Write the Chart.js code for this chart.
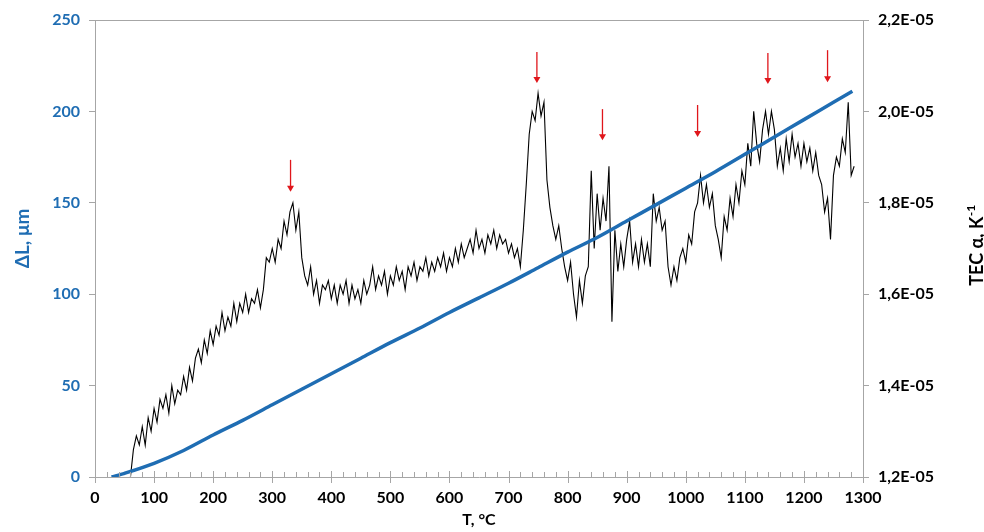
<!DOCTYPE html>
<html><head><meta charset="utf-8">
<script src="https://cdn.jsdelivr.net/npm/chart.js@4.4.1/dist/chart.umd.min.js"></script>
<style>html,body{margin:0;padding:0;background:#fff}#wrap{width:984px;height:532px;position:relative}</style>
</head><body><div id="wrap"><canvas id="c"></canvas></div>
<script>
// ---- data ----
// TEC curve, sampled every 5 °C starting at 60 °C, values in units of 1E-05 K^-1
const tecStartT = 60, tecStepT = 5;
const tecValues = [
 1.20,1.26,1.29,1.27,1.31,1.27,1.33,1.30,
 1.35,1.32,1.37,1.35,1.38,1.34,1.40,1.36,1.39,1.38,1.42,1.39,1.44,1.41,1.46,1.48,1.45,1.50,1.47,1.52,
 1.49,1.53,1.51,1.56,1.52,1.55,1.53,1.58,1.54,1.58,1.56,1.60,1.56,1.59,1.58,1.61,1.57,1.61,1.68,1.67,
 1.70,1.67,1.72,1.70,1.76,1.73,1.78,1.80,1.74,1.78,1.68,1.64,1.62,1.66,1.60,1.63,1.58,1.62,1.61,1.63,
 1.59,1.62,1.58,1.62,1.60,1.63,1.58,1.62,1.59,1.61,1.58,1.63,1.60,1.62,1.66,1.61,1.64,1.62,1.65,1.60,
 1.64,1.62,1.66,1.63,1.65,1.61,1.66,1.64,1.67,1.63,1.66,1.65,1.68,1.64,1.67,1.65,1.68,1.66,1.69,1.65,
 1.68,1.66,1.70,1.67,1.71,1.68,1.70,1.72,1.69,1.74,1.70,1.72,1.69,1.73,1.71,1.74,1.70,1.73,1.71,1.72,
 1.69,1.71,1.68,1.70,1.66,1.74,1.84,1.95,2.00,1.98,2.04,1.99,2.02,1.85,1.79,1.75,1.72,1.75,1.70,1.66,
 1.63,1.67,1.60,1.55,1.63,1.58,1.64,1.66,1.87,1.70,1.82,1.74,1.81,1.76,1.88,1.54,1.74,1.65,1.71,1.66,
 1.72,1.76,1.67,1.71,1.66,1.72,1.67,1.71,1.66,1.82,1.76,1.79,1.74,1.76,1.66,1.62,1.66,1.63,1.68,1.70,
 1.67,1.73,1.71,1.78,1.80,1.86,1.80,1.84,1.79,1.82,1.75,1.72,1.68,1.77,1.74,1.81,1.77,1.84,1.80,1.87,
 1.84,1.93,1.88,2.00,1.93,1.89,1.96,2.00,1.95,2.00,1.96,1.88,1.92,1.87,1.94,1.89,1.95,1.90,1.93,1.88,
 1.93,1.89,1.92,1.87,1.91,1.86,1.84,1.78,1.81,1.72,1.86,1.90,1.88,1.94,1.91,2.02,1.86,1.88
];
// Elongation ΔL (µm) vs temperature
const dlT      = [28, 50, 100, 150, 200, 250, 300, 350, 400, 450, 500, 550, 600, 650, 700, 750, 800, 850, 900, 950, 1000, 1050, 1100, 1150, 1200, 1250, 1282];
const dlValues = [0, 2, 7.5, 14.5, 23, 31, 39.5, 48, 56.5, 65, 73.5, 81.5, 90, 98, 106, 114.5, 123, 131, 140, 149, 158, 167, 176.5, 186, 195.5, 205, 211];
// axis ticks
const xTicks = [0,100,200,300,400,500,600,700,800,900,1000,1100,1200,1300];
const leftTicks = [0,50,100,150,200,250];
const rightTicks = [1.2,1.4,1.6,1.8,2.0,2.2];
// red arrows: temperature, top and tip (TEC units)
const arrowT   = [331, 748, 859, 1020, 1139, 1240];
const arrowTop = [1.894, 2.130, 2.005, 2.014, 2.128, 2.134];
const arrowTip = [1.824, 2.062, 1.937, 1.944, 2.060, 2.064];

// ---- build ----
const BLUE = '#1f6db3';
const GRAY = '#a6a6a6';
const FONT = 'Lato, "Open Sans", sans-serif';
const tecData = tecValues.map((v,i)=>({x: tecStartT + i*tecStepT, y: v}));
const dlData = dlT.map((t,i)=>({x:t, y:dlValues[i]}));

const decor = {
  id: 'decor',
  afterDatasetsDraw(chart){
    const ctx = chart.ctx, xs = chart.scales.x, ys = chart.scales.y2;
    ctx.save();
    ctx.strokeStyle = '#e0161b'; ctx.fillStyle = '#e0161b'; ctx.lineWidth = 1.3;
    arrowT.forEach((t,i)=>{
      const x = xs.getPixelForValue(t);
      const y0 = ys.getPixelForValue(arrowTop[i]);
      const y1 = ys.getPixelForValue(arrowTip[i]);
      ctx.beginPath(); ctx.moveTo(x, y0); ctx.lineTo(x, y1 - 5); ctx.stroke();
      ctx.beginPath(); ctx.moveTo(x - 3.5, y1 - 6); ctx.lineTo(x + 3.5, y1 - 6); ctx.lineTo(x, y1); ctx.closePath(); ctx.fill();
    });
    ctx.restore();
  },
  afterDraw(chart){
    const ctx = chart.ctx, a = chart.chartArea, xs = chart.scales.x;
    ctx.save();
    ctx.strokeStyle = GRAY; ctx.lineWidth = 1;
    // top border
    ctx.beginPath(); ctx.moveTo(a.left, a.top + 0.5); ctx.lineTo(a.right, a.top + 0.5); ctx.stroke();
    // x ticks: minor every 20 (upward), major every 100 (crossing)
    for (let v = 0; v <= 1300; v += 20) {
      const x = Math.round(xs.getPixelForValue(v)) + 0.5;
      ctx.beginPath();
      if (v % 100 === 0) { ctx.moveTo(x, a.bottom - 6); ctx.lineTo(x, a.bottom + 6); }
      else { ctx.moveTo(x, a.bottom - 5); ctx.lineTo(x, a.bottom); }
      ctx.stroke();
    }
    // left title
    const cy = (a.top + a.bottom) / 2;
    ctx.font = 'bold 19px ' + FONT; ctx.textAlign = 'center'; ctx.textBaseline = 'middle';
    ctx.fillStyle = BLUE;
    ctx.save(); ctx.translate(23, cy - 10); ctx.rotate(-Math.PI/2); ctx.fillText('ΔL, μm', 0, 0); ctx.restore();
    // right title with superscript
    ctx.fillStyle = '#000';
    ctx.save(); ctx.translate(a.right + 114, cy - 3); ctx.rotate(-Math.PI/2);
    ctx.font = 'bold 18px ' + FONT;
    const main = 'TEC α, K';
    const wMain = ctx.measureText(main).width;
    ctx.font = 'bold 12px ' + FONT;
    const sup = '-1';
    const wSup = ctx.measureText(sup).width;
    const x0 = -(wMain + wSup) / 2;
    ctx.textAlign = 'left';
    ctx.font = 'bold 18px ' + FONT; ctx.fillText(main, x0, 0);
    ctx.font = 'bold 12px ' + FONT; ctx.fillText(sup, x0 + wMain + 0.5, -6);
    ctx.restore();
    ctx.restore();
  }
};

new Chart(document.getElementById('c'), {
  type: 'line',
  data: { datasets: [
    { label: 'ΔL', data: dlData, yAxisID: 'y', borderColor: BLUE, borderWidth: 3.5, pointRadius: 0, tension: 0.3, fill: false },
    { label: 'TEC', data: tecData, yAxisID: 'y2', borderColor: '#000', borderWidth: 1.1, pointRadius: 0, tension: 0, fill: false }
  ]},
  options: {
    responsive: true, maintainAspectRatio: false, animation: false,
    layout: { padding: { top: 20, left: 0, right: 0, bottom: 0 } },
    plugins: { legend: { display: false }, tooltip: { enabled: false } },
    scales: {
      x: {
        type: 'linear', min: 0, max: 1300,
        afterBuildTicks: s => { s.ticks = xTicks.map(v => ({ value: v })); },
        afterFit: s => { s.height = 55; },
        grid: { display: true, drawOnChartArea: false, drawTicks: false },
        border: { display: true, color: GRAY, width: 1 },
        ticks: { color: '#000', font: { family: FONT, size: 16, weight: 'bold' }, padding: 11, maxRotation: 0, autoSkip: false,
          callback: v => String(v) },
        title: { display: true, text: 'T, °C', color: '#000', font: { family: FONT, size: 16, weight: 'bold' }, padding: { top: 0, bottom: 3 } }
      },
      y: {
        position: 'left', min: 0, max: 250,
        afterBuildTicks: s => { s.ticks = leftTicks.map(v => ({ value: v })); },
        afterFit: s => { s.width = 95; },
        grid: { display: true, drawOnChartArea: false, drawTicks: true, tickLength: 6, color: GRAY },
        border: { display: true, color: GRAY, width: 1 },
        ticks: { color: BLUE, font: { family: FONT, size: 16, weight: 'bold' }, padding: 9, callback: v => String(v) }
      },
      y2: {
        position: 'right', min: 1.2, max: 2.2,
        afterBuildTicks: s => { s.ticks = rightTicks.map(v => ({ value: v })); },
        afterFit: s => { s.width = 121; },
        grid: { display: true, drawOnChartArea: false, drawTicks: true, tickLength: 6, color: GRAY },
        border: { display: true, color: GRAY, width: 1 },
        ticks: { color: '#000', font: { family: FONT, size: 16, weight: 'bold' }, padding: 9,
          callback: v => v.toFixed(1).replace('.', ',') + 'E-05' }
      }
    }
  },
  plugins: [decor]
});
</script>
</body></html>
